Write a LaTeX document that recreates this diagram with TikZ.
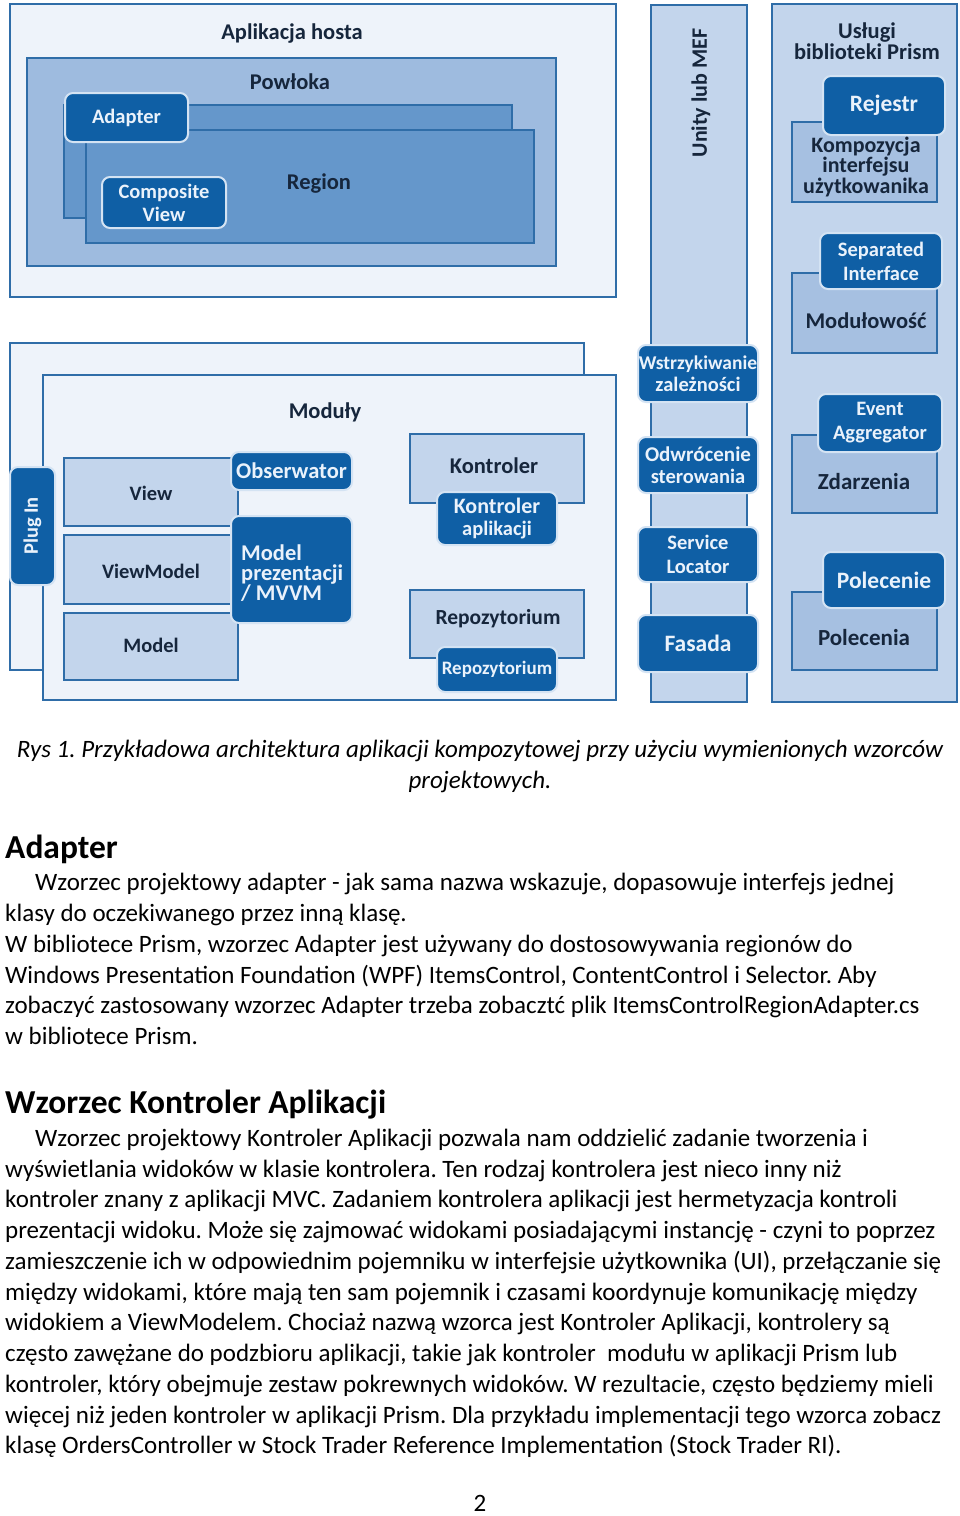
\documentclass[tikz,border=0pt]{standalone}
\usepackage{fontspec}
\setmainfont{Carlito}
\definecolor{outerfill}{HTML}{EEF3FA}
\definecolor{lineblue}{HTML}{2F6DA8}
\definecolor{lightfill}{HTML}{C3D5EC}
\definecolor{medfill}{HTML}{A6C0E1}
\definecolor{powfill}{HTML}{9EBBDF}
\definecolor{regfill}{HTML}{6597CB}
\definecolor{darkbox}{HTML}{0F5FA5}
\definecolor{boxring}{HTML}{D4E3F3}
\definecolor{boxtext}{HTML}{EAF2FB}
\definecolor{lbltext}{HTML}{16263C}
\newcommand\mybox[7]{\node[#2, anchor=north west, minimum width={(#5-#3)*1pt}, minimum height={(#6-#4)*1pt}] (#1) at (#3,#4) {#7};}
\newcommand\fs[2]{\fontsize{#1}{#2}\selectfont\bfseries}
\begin{document}
\frenchspacing
\begin{tikzpicture}[x=1pt,y=-1pt,
  frame/.style={draw=lineblue, line width=1.6pt, inner sep=0pt, outer sep=0pt},
  lightrect/.style={frame, fill=outerfill},
  bluerect/.style={frame, fill=lightfill},
  medrect/.style={frame, fill=medfill},
  powrect/.style={frame, fill=powfill},
  regrect/.style={frame, fill=regfill},
  darkbx/.style={draw=boxring, line width=2pt, fill=darkbox, rounded corners=8pt, inner sep=0pt, outer sep=0pt,
     text=boxtext, font=\fs{20.5}{22}, align=center},
  lbl/.style={text=lbltext, font=\fs{22.5}{20}, align=center, inner sep=0pt},
  body/.style={font=\fontsize{25}{30}\selectfont, inner sep=0pt, anchor=base west, text=black},
  head/.style={font=\fontsize{33.5}{36}\selectfont\bfseries, inner sep=0pt, anchor=base west, text=black},
  capt/.style={font=\fontsize{25}{30}\selectfont\itshape, inner sep=0pt, anchor=base, text=black}]
\useasboundingbox (0,0) rectangle (960,1516);
\fill[white] (0,0) rectangle (960,1516);
% ---------- host application ----------
\mybox{host}{lightrect}{10}{4}{616}{297}{}
\mybox{powloka}{powrect}{27}{58}{556}{266}{}
\mybox{regback}{regrect}{64}{105}{512}{218}{}
\mybox{regfront}{regrect}{86}{130}{534}{243}{}
\mybox{adapter}{darkbx}{65}{93}{188}{142}{Adapter}
\mybox{compview}{darkbx}{102}{177}{226}{228}{Composite\\[1pt]View}
\node[lbl] (thost) at (292,34) {Aplikacja hosta};
\node[lbl] (tpow) at (290,82) {Powłoka};
\node[lbl] (treg) at (319,184) {Region};
% ---------- Unity column ----------
\mybox{unity}{bluerect}{651}{5}{747}{702}{}
\node[lbl, font=\fs{22}{20}, rotate=90] (tunity) at (701,93) {Unity lub MEF};
\mybox{wstrz}{darkbx}{638}{345}{758}{402}{\fs{19.5}{19}Wstrzykiwanie\\zależności}
\mybox{odwr}{darkbx}{638}{437}{758}{493}{\fs{21}{19}Odwrócenie\\sterowania}
\mybox{servloc}{darkbx}{638}{527}{758}{582}{Service\\[2pt]Locator}
\mybox{fasada}{darkbx}{638}{615}{758}{672}{\fs{23.5}{22}Fasada}
% ---------- Prism services ----------
\mybox{prism}{bluerect}{772}{4}{957}{702}{}
\node[lbl, font=\fs{22.5}{18}] (tprism) at (867,41) {Usługi\\biblioteki Prism};
\mybox{kompoz}{medrect}{792}{122}{937}{202}{}
\mybox{rejestr}{darkbx}{823}{76}{945}{135}{\fs{23.5}{22}Rejestr}
\node[lbl, font=\fs{22}{19}] (tkompoz) at (866,167) {Kompozycja\\interfejsu\\użytkowanika};
\mybox{modul}{medrect}{792}{273}{937}{353}{}
\mybox{sepint}{darkbx}{820}{233}{942}{289}{Separated\\[2pt]Interface}
\node[lbl] (tmodul) at (866,321) {Modułowość};
\mybox{zdarz}{medrect}{792}{435}{937}{513}{}
\mybox{evagg}{darkbx}{818}{394}{942}{452}{Event\\[2pt]Aggregator}
\node[lbl, font=\fs{23}{20}] (tzdarz) at (864,482) {Zdarzenia};
\mybox{polec}{medrect}{792}{592}{937}{670}{}
\mybox{polecenie}{darkbx}{823}{552}{945}{608}{\fs{23.5}{22}Polecenie}
\node[lbl, font=\fs{23}{20}] (tpolec) at (864,638) {Polecenia};
% ---------- Modules ----------
\mybox{modback}{lightrect}{10}{343}{584}{670}{}
\mybox{modfront}{lightrect}{43}{375}{616}{700}{}
\node[lbl] (tmoduly) at (325,412) {Moduły};
\mybox{plugin}{darkbx}{10}{467}{55}{585}{}
\node[text=boxtext, font=\fs{20.5}{21}, rotate=90, inner sep=0pt] (tplug) at (plugin.center) {Plug In};
\mybox{view}{bluerect}{64}{458}{238}{526}{}
\mybox{viewmodel}{bluerect}{64}{535}{238}{604}{}
\mybox{model}{bluerect}{64}{613}{238}{680}{}
\node[lbl, font=\fs{20.5}{19}] (tview) at (151,493) {View};
\node[lbl, font=\fs{20.5}{19}] (tviewmodel) at (151,571) {ViewModel};
\node[lbl, font=\fs{20.5}{19}] (tmodel) at (151,645) {Model};
\mybox{obserw}{darkbx}{231}{452}{352}{490}{\fs{22.5}{22}Obserwator}
\mybox{mvvm}{darkbx}{231}{516}{352}{623}{}
\node[text=boxtext, font=\fs{22.5}{20}, align=left, anchor=west, inner sep=0pt] (tmvvm) at (241,573) {Model\\prezentacji\\/ MVVM};
\mybox{kontr}{bluerect}{410}{434}{584}{503}{}
\node[lbl] (tkontr) at (494,466) {Kontroler};
\mybox{kontrapp}{darkbx}{437}{492}{557}{545}{\fs{22}{20}Kontroler\\aplikacji}
\mybox{repo}{bluerect}{410}{590}{584}{658}{}
\node[lbl, font=\fs{21.5}{20}] (trepo) at (498,619) {Repozytorium};
\mybox{repobox}{darkbx}{437}{647}{557}{692}{\fs{19}{20}Repozytorium}
% ---------- caption ----------
\node[capt] (cap1) at (480,757) {Rys 1. Przykładowa architektura aplikacji kompozytowej przy użyciu wymienionych wzorców};
\node[capt] (cap2) at (480,788) {projektowych.};
% ---------- Adapter section ----------
\node[head] (h1) at (5,858) {Adapter};
\node[body] (a1) at (35,890) {Wzorzec projektowy adapter - jak sama nazwa wskazuje, dopasowuje interfejs jednej};
\node[body] (a2) at (5,921) {klasy do oczekiwanego przez inną klasę.};
\node[body] (a3) at (5,952) {W bibliotece Prism, wzorzec Adapter jest używany do dostosowywania regionów do};
\node[body] (a4) at (5,983) {Windows Presentation Foundation (WPF) ItemsControl, ContentControl i Selector. Aby};
\node[body] (a5) at (5,1013) {zobaczyć zastosowany wzorzec Adapter trzeba zobacztć plik ItemsControlRegionAdapter.cs};
\node[body] (a6) at (5,1044) {w bibliotece Prism.};
% ---------- Application controller ----------
\node[head] (h2) at (5,1113) {Wzorzec Kontroler Aplikacji};
\node[body] (b1) at (35,1146) {Wzorzec projektowy Kontroler Aplikacji pozwala nam oddzielić zadanie tworzenia i};
\node[body] (b2) at (5,1177) {wyświetlania widoków w klasie kontrolera. Ten rodzaj kontrolera jest nieco inny niż};
\node[body] (b3) at (5,1207) {kontroler znany z aplikacji MVC. Zadaniem kontrolera aplikacji jest hermetyzacja kontroli};
\node[body] (b4) at (5,1238) {prezentacji widoku. Może się zajmować widokami posiadającymi instancję - czyni to poprzez};
\node[body] (b5) at (5,1269) {zamieszczenie ich w odpowiednim pojemniku w interfejsie użytkownika (UI), przełączanie się};
\node[body] (b6) at (5,1300) {między widokami, które mają ten sam pojemnik i czasami koordynuje komunikację między};
\node[body] (b7) at (5,1330) {widokiem a ViewModelem. Chociaż nazwą wzorca jest Kontroler Aplikacji, kontrolery są};
\node[body] (b8) at (5,1361) {często zawężane do podzbioru aplikacji, takie jak kontroler~ modułu w aplikacji Prism lub};
\node[body] (b9) at (5,1392) {kontroler, który obejmuje zestaw pokrewnych widoków. W rezultacie, często będziemy mieli};
\node[body] (b10) at (5,1423) {więcej niż jeden kontroler w aplikacji Prism. Dla przykładu implementacji tego wzorca zobacz};
\node[body] (b11) at (5,1453) {klasę OrdersController w Stock Trader Reference Implementation (Stock Trader RI).};
\node[body, anchor=base] (pnum) at (480,1511) {2};
\end{tikzpicture}
\end{document}
